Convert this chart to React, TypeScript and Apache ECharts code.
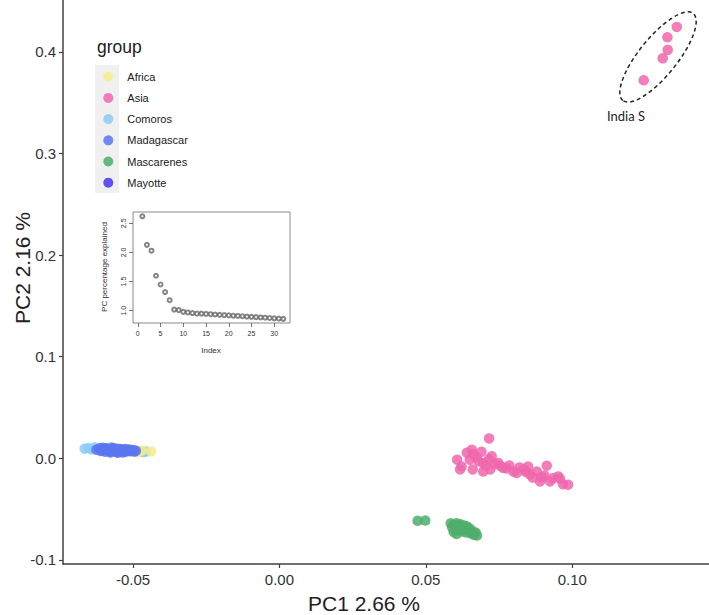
import React, { useEffect, useRef } from "react";
import * as echarts from "echarts";

const groups = ["Africa", "Asia", "Comoros", "Madagascar", "Mascarenes", "Mayotte"];
const groupColors: Record<string, string> = {
  Africa: "#F7EC8A",
  Asia: "#F066AC",
  Comoros: "#8CCBF6",
  Madagascar: "#5A76F0",
  Mascarenes: "#4FAE6C",
  Mayotte: "#4A34EE",
};

const africa: number[][] = [
  [-0.0438, 0.0068], [-0.047, 0.0078], [-0.0508, 0.0092], [-0.0545, 0.0096], [-0.0485, 0.0058],
];

const asia: number[][] = [
  // India S
  [0.1357, 0.4245], [0.1325, 0.4143], [0.1326, 0.4019], [0.1309, 0.3936], [0.1244, 0.372],
  // main cluster
  [0.0607, -0.0014], [0.0622, -0.008], [0.064, 0.0055], [0.0657, 0.0085], [0.0662, 0.004],
  [0.069, 0.0065], [0.065, -0.0014], [0.0696, -0.0045], [0.066, -0.011], [0.0672, 0.001],
  [0.072, -0.011], [0.0716, 0.0196], [0.0747, -0.0045], [0.0764, -0.0094], [0.0705, -0.007],
  [0.0735, -0.006], [0.0725, 0.002], [0.0785, -0.007], [0.0799, -0.013], [0.081, -0.0145],
  [0.082, -0.009], [0.0835, -0.011], [0.0849, -0.008], [0.0856, -0.016], [0.0879, -0.013],
  [0.0865, -0.019], [0.089, -0.0227], [0.0913, -0.0073], [0.0924, -0.0227], [0.0905, -0.017],
  [0.0952, -0.0178], [0.0958, -0.02], [0.0986, -0.026], [0.0968, -0.0255], [0.0935, -0.0195],
  [0.0696, -0.013], [0.0617, -0.011], [0.0775, -0.01], [0.0842, -0.0135], [0.0895, -0.0185],
  [0.0755, -0.0075], [0.068, -0.003], [0.0715, -0.001],
];

const comoros: number[][] = [
  [-0.0665, 0.0095], [-0.0652, 0.0102], [-0.0642, 0.0088], [-0.063, 0.0108], [-0.0622, 0.0092],
  [-0.0612, 0.0098], [-0.0478, 0.0068], [-0.0465, 0.0061], [-0.0455, 0.0066], [-0.0492, 0.0074],
  [-0.0575, 0.0108],
];

const madagascar: number[][] = [
  [-0.0625, 0.0085], [-0.0615, 0.0095], [-0.061, 0.0072], [-0.0605, 0.0105], [-0.06, 0.0082],
  [-0.0595, 0.0065], [-0.059, 0.0098], [-0.0585, 0.0078], [-0.058, 0.0088], [-0.0575, 0.0068],
  [-0.057, 0.0102], [-0.0568, 0.0075], [-0.0562, 0.0085], [-0.0558, 0.0062], [-0.0555, 0.0095],
  [-0.055, 0.0078], [-0.0545, 0.0088], [-0.054, 0.0068], [-0.0537, 0.0082], [-0.0532, 0.0072],
  [-0.0528, 0.0092], [-0.0525, 0.0064], [-0.052, 0.0079], [-0.0515, 0.0086], [-0.051, 0.0069],
  [-0.0505, 0.0076], [-0.05, 0.0082], [-0.0495, 0.0066], [-0.049, 0.0074], [-0.0578, 0.0058],
  [-0.0552, 0.0055], [-0.0598, 0.0092], [-0.0565, 0.0096], [-0.0535, 0.0058],
];

const mascarenes: number[][] = [
  [0.0472, -0.0615], [0.0498, -0.0612],
  [0.0585, -0.064], [0.059, -0.068], [0.0595, -0.0655], [0.06, -0.07], [0.0605, -0.064],
  [0.061, -0.067], [0.0612, -0.071], [0.0618, -0.065], [0.062, -0.069], [0.0625, -0.072],
  [0.063, -0.066], [0.0632, -0.0695], [0.0638, -0.073], [0.064, -0.067], [0.0645, -0.071],
  [0.065, -0.069], [0.0655, -0.074], [0.066, -0.072], [0.0665, -0.0755], [0.067, -0.073],
  [0.0675, -0.076], [0.0595, -0.0725], [0.0605, -0.0745],
];

const mayotte: number[][] = [
  [-0.0595, 0.0088], [-0.058, 0.0075], [-0.0565, 0.0083], [-0.055, 0.0071], [-0.0543, 0.0086],
  [-0.0532, 0.0077], [-0.052, 0.0081], [-0.0605, 0.0078],
];

const xTicks = [-0.05, 0, 0.05, 0.1];
const yTicks = [-0.1, 0, 0.1, 0.2, 0.3, 0.4];

const pcPercent = [
  2.62, 2.13, 2.03, 1.6, 1.45, 1.32, 1.18, 1.02, 1.01, 0.98, 0.97, 0.96, 0.95, 0.95, 0.945, 0.94,
  0.935, 0.93, 0.925, 0.92, 0.915, 0.91, 0.905, 0.9, 0.895, 0.89, 0.885, 0.88, 0.875, 0.87, 0.865, 0.86,
];
const insetXTicks = [0, 5, 10, 15, 20, 25, 30];
const insetYTicks = [1.0, 1.5, 2.0, 2.5];

const FONT = "'Liberation Sans', Arial, sans-serif";

export default function App() {
  const ref = useRef<HTMLDivElement>(null);
  useEffect(() => {
    if (!ref.current) return;
    const chart = echarts.init(ref.current, undefined, { renderer: "svg" });
    const seriesData: Record<string, number[][]> = {
      Africa: africa,
      Asia: asia,
      Comoros: comoros,
      Madagascar: madagascar,
      Mascarenes: mascarenes,
      Mayotte: mayotte,
    };
    const drawOrder = ["Comoros", "Africa", "Mayotte", "Madagascar", "Asia", "Mascarenes"];
    const scatter = drawOrder.map((g) => ({
      name: g,
      type: "scatter",
      xAxisIndex: 0,
      yAxisIndex: 0,
      data: seriesData[g],
      symbol: "circle",
      symbolSize: 10.5,
      itemStyle: { color: groupColors[g], opacity: 0.85 },
      emphasis: { disabled: true },
    }));
    const option: any = {
      animation: false,
      textStyle: { fontFamily: FONT },
      grid: [
        { left: 63, right: 0, top: 0, bottom: 51 },
        {
          left: 133, top: 212, width: 157, height: 111, show: true,
          borderColor: "#8a8a8a", borderWidth: 1, backgroundColor: "#ffffff",
        },
      ],
      xAxis: [
        {
          type: "value", gridIndex: 0, min: -0.0739, max: 0.1467,
          splitLine: { show: false },
          axisLine: { show: true, onZero: false, lineStyle: { color: "#404040", width: 1.5 } },
          axisTick: { show: true, customValues: xTicks, length: 4, lineStyle: { color: "#404040", width: 1.2 } },
          axisLabel: {
            customValues: xTicks, formatter: (v: number) => v.toFixed(2),
            fontSize: 15, color: "#333", margin: 8, fontFamily: FONT,
          },
        },
        {
          type: "value", gridIndex: 1, min: -1.06, max: 33.47,
          splitLine: { show: false },
          axisLine: { show: false, onZero: false },
          axisTick: { show: true, customValues: insetXTicks, length: 4, lineStyle: { color: "#555", width: 0.8 } },
          axisLabel: {
            customValues: insetXTicks, formatter: (v: number) => String(v),
            fontSize: 7, color: "#333", margin: 7, fontFamily: FONT,
          },
        },
      ],
      yAxis: [
        {
          type: "value", gridIndex: 0, min: -0.104, max: 0.451,
          splitLine: { show: false },
          axisLine: { show: true, onZero: false, lineStyle: { color: "#404040", width: 1.5 } },
          axisTick: { show: true, customValues: yTicks, length: 4, lineStyle: { color: "#404040", width: 1.2 } },
          axisLabel: {
            customValues: yTicks, formatter: (v: number) => v.toFixed(1),
            fontSize: 15, color: "#333", margin: 7, fontFamily: FONT,
          },
        },
        {
          type: "value", gridIndex: 1, min: 0.789, max: 2.694,
          splitLine: { show: false },
          axisLine: { show: false, onZero: false },
          axisTick: { show: true, customValues: insetYTicks, length: 4, lineStyle: { color: "#555", width: 0.8 } },
          axisLabel: {
            customValues: insetYTicks, formatter: (v: number) => v.toFixed(1),
            fontSize: 7, color: "#333", margin: 6, rotate: 90, fontFamily: FONT,
          },
        },
      ],
      legend: {
        data: groups,
        orient: "vertical",
        left: 103.3,
        top: 70.7,
        padding: 0,
        icon: "circle",
        itemWidth: 10,
        itemHeight: 10,
        itemGap: 9.2,
        selectedMode: false,
        textStyle: { fontSize: 11, color: "#1a1a1a", lineHeight: 12, fontFamily: FONT, padding: [0, 0, 0, 9] },
      },
      graphic: [
        { type: "rect", z: -1, shape: { x: 95, y: 65, width: 24, height: 128 }, style: { fill: "#F0F0F0" } },
        {
          type: "text", x: 97, y: 47,
          style: { text: "group", fontSize: 17.5, fill: "#1a1a1a", fontFamily: FONT, verticalAlign: "middle" },
        },
        {
          type: "ellipse", x: 658, y: 57, rotation: (51 * Math.PI) / 180,
          shape: { cx: 0, cy: 0, rx: 56, ry: 19 },
          style: { fill: "none", stroke: "#222", lineWidth: 1.5, lineDash: [4, 3] },
        },
        {
          type: "text", x: 626, y: 116,
          style: { text: "India S", fontSize: 13, fill: "#222", fontFamily: "Lato, 'Open Sans', sans-serif", align: "center", verticalAlign: "middle" },
        },
        {
          type: "text", x: 364, y: 603,
          style: { text: "PC1 2.66 %", fontSize: 21, fill: "#222", fontFamily: FONT, align: "center", verticalAlign: "middle" },
        },
        {
          type: "text", x: 22, y: 268, rotation: Math.PI / 2,
          style: { text: "PC2 2.16 %", fontSize: 21, fill: "#222", fontFamily: FONT, align: "center", verticalAlign: "middle" },
        },
        {
          type: "text", x: 104, y: 267, rotation: Math.PI / 2,
          style: { text: "PC percentage explained", fontSize: 8, fill: "#333", fontFamily: FONT, align: "center", verticalAlign: "middle" },
        },
        {
          type: "text", x: 211, y: 350,
          style: { text: "Index", fontSize: 8, fill: "#333", fontFamily: FONT, align: "center", verticalAlign: "middle" },
        },
      ],
      series: [
        ...scatter,
        {
          name: "pc",
          type: "scatter",
          xAxisIndex: 1,
          yAxisIndex: 1,
          data: pcPercent.map((v, i) => [i + 1, v]),
          symbol: "emptyCircle",
          symbolSize: 4,
          itemStyle: { color: "#666", borderColor: "#666", borderWidth: 0.8 },
          emphasis: { disabled: true },
        },
      ],
    };
    chart.setOption(option);
    return () => chart.dispose();
  }, []);
  return <div ref={ref} style={{ width: 709, height: 615, position: "absolute", left: 0, top: 0 }} />;
}
